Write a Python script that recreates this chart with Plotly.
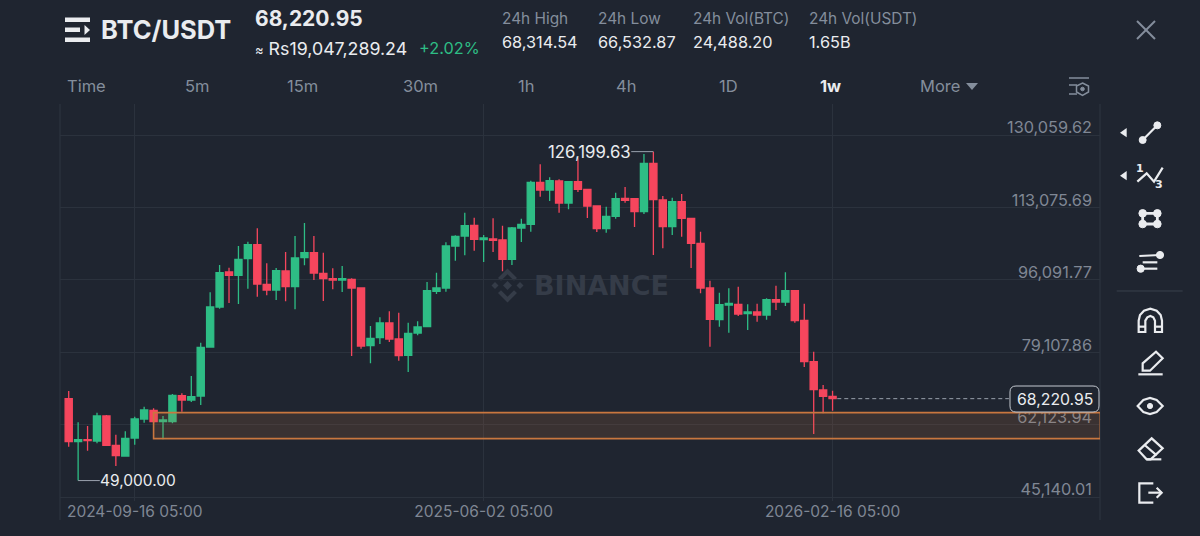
import pandas as pd
import plotly.graph_objects as go

# ---------- data ----------
first_week = "2024-07-29 05:00"
opens = [68225,58133,58602,58289,64157,57272,54769,58993,63453,65487,62827,62827,68929,67912,68850,80350,89738,97952,97170,101081,
         104367,95058,93728,98187,94510,101316,102489,97639,96387,96074,96231,94198,80664,82542,85984,82229,78396,83637,85123,93416,
         94198,104055,106402,108905,105541,105698,105463,100926,108279,109140,118997,117198,119310,114147,119153,117354,113443,108123,111017,115242,
         115164,112113,123456,114851,108592,114460,110548,104681,94198,86766,90208,90365,88174,88565,87861,91460,90912,93572,86609,76909,
         70259,68773]
highs = [70024,62670,61809,64939,64391,59776,60558,64000,66347,65955,64157,69320,69476,73544,81367,93180,99595,98969,104054,105071,
         108200,99986,98891,102646,106401,109452,106401,102489,98813,99360,96466,94354,85279,87314,88722,88409,86062,86375,95606,97797,
         104915,106558,111878,110705,106637,110548,108827,108514,110470,119388,123221,120170,119701,119300,124629,117432,113521,113286,116572,117902,
         115242,125646,126199.63,115789,115398,116259,110704,107419,95919,93103,94120,94511,90365,90521,91773,94745,97875,93650,90521,79256,
         71433,70103]
lows = [56959,49000,56021,57742,57200,52422,54613,57429,62592,62592,58681,62436,65174,67442,66738,80194,89347,90677,90442,94041,
        92163,92476,91381,91068,89190,99517,96074,91146,93884,93258,78238,79960,76518,81055,81525,77144,74484,83089,85045,92790,
        93337,100613,101865,102960,100300,102647,98109,99596,104994,107419,115633,114616,111878,112660,116728,110626,107341,107184,110470,114225,
        108514,111565,101943,103507,106637,106245,98892,92946,80429,85123,83715,87626,84341,86297,86766,89035,89973,86062,75657,59933,
        64783,65409]
closes = [58133,58602,58368,64157,57272,54847,58915,63453,65565,62827,63218,69007,67912,68694,80272,89738,97796,97170,100925,104367,
          95136,93728,98265,94510,101238,102489,97717,96387,96074,96387,94197,80586,82385,85984,82229,78317,83559,85045,93572,94198,
          104055,106324,108827,105620,105932,105385,100926,108279,109140,118997,117198,119388,114147,119153,117354,113443,108123,111017,115164,114772,
          112113,123456,114929,108592,114460,110548,104681,94198,86844,90286,90599,88096,88565,87861,91460,90912,93572,86531,76909,70338,
          68773,68220.95]

y_tick_values = [130059.62, 113075.69, 96091.77, 79107.86, 62123.94, 45140.01]
y_tick_labels = ["130,059.62", "113,075.69", "96,091.77", "79,107.86", "62,123.94", "45,140.01"]
x_tick_labels = ["2024-09-16 05:00", "2025-06-02 05:00", "2026-02-16 05:00"]
zone_bottom, zone_top = 58850, 64940
period_tabs = ["Time", "5m", "15m", "30m", "1h", "4h", "1D", "1w", "More"]
stats = [("24h High", "68,314.54"), ("24h Low", "66,532.87"), ("24h Vol(BTC)", "24,488.20"), ("24h Vol(USDT)", "1.65B")]

# ---------- style ----------
BG, GRID, FRAME = "#1f2530", "#2b323d", "#2f3641"
UP, DOWN = "#2ebd85", "#f6465d"
WHITE, MUTED, TICK = "#eaecef", "#848e9c", "#7f8794"
ORANGE = "#c9773f"
FONT = "Inter, 'Open Sans', sans-serif"
PLOT_L, PLOT_R, PLOT_T, PLOT_B = 60, 1100, 104, 501

dates = pd.date_range(first_week, periods=len(opens), freq="7D")
week = pd.Timedelta(days=7)


def X(x):
    return (x - PLOT_L) / (PLOT_R - PLOT_L)


def Y(y):
    return (PLOT_B - y) / (PLOT_B - PLOT_T)


def path(points, close=False):
    s = "M" + " L".join(f"{X(a):.5f},{Y(b):.5f}" for a, b in points)
    return s + (" Z" if close else "")


fig = go.Figure(go.Candlestick(
    x=dates, open=opens, high=highs, low=lows, close=closes,
    increasing=dict(line=dict(color=UP, width=1.3), fillcolor=UP),
    decreasing=dict(line=dict(color=DOWN, width=1.3), fillcolor=DOWN),
    whiskerwidth=0, hoverinfo="skip", showlegend=False,
))

shapes, annotations = [], []


def pshape(points, close=False, fill=None, color=WHITE, width=2.2, layer="above"):
    shapes.append(dict(type="path", xref="paper", yref="paper", path=path(points, close), layer=layer,
                       fillcolor=fill if fill else "rgba(0,0,0,0)",
                       line=dict(color=color, width=width)))


def circle(cx, cy, r, fill=WHITE, color=WHITE, width=1):
    shapes.append(dict(type="circle", xref="paper", yref="paper", x0=X(cx - r), x1=X(cx + r),
                       y0=Y(cy + r), y1=Y(cy - r), fillcolor=fill, line=dict(color=color, width=width)))


def text(t, x, y, size, color=WHITE, anchor="left", bold=False, family=FONT):
    annotations.append(dict(text=f"<b>{t}</b>" if bold else t, xref="paper", yref="paper",
                            x=X(x - 2 if anchor == "left" else x), y=Y(y),
                            xanchor=anchor, yanchor="middle", showarrow=False,
                            font=dict(family=family, size=size, color=color)))


# frame lines of the chart pane
for fx in (PLOT_L, PLOT_R):
    pshape([(fx, PLOT_T), (fx, 520)], color=FRAME, width=1, layer="below")

# price zone
shapes.append(dict(type="rect", xref="x", yref="y", x0=dates[9], x1=dates[0] + 109.4 * week,
                   y0=zone_bottom, y1=zone_top, fillcolor="rgba(201,119,63,0.16)",
                   line=dict(color=ORANGE, width=1.6)))

# last-price dashed line
shapes.append(dict(type="line", xref="x", yref="y", x0=dates[-1] + 0.5 * week, x1=dates[-1] + 18.7 * week,
                   y0=closes[-1], y1=closes[-1], line=dict(color="#9aa2ad", width=1, dash="4px,3px")))

# high and low callouts
top_i = highs.index(max(highs))
low_i = lows.index(min(lows))
shapes.append(dict(type="line", xref="x", yref="y", x0=dates[top_i] - 2.35 * week, x1=dates[top_i],
                   y0=highs[top_i], y1=highs[top_i], line=dict(color="#9aa2ad", width=1)))
shapes.append(dict(type="line", xref="x", yref="y", x0=dates[low_i], x1=dates[low_i] + 2.3 * week,
                   y0=lows[low_i], y1=lows[low_i], line=dict(color="#9aa2ad", width=1)))
annotations.append(dict(text=f"{highs[top_i]:,.2f}", xref="x", yref="y", x=dates[top_i] - 2.35 * week, y=highs[top_i],
                        xanchor="right", yanchor="middle", showarrow=False, xshift=2,
                        font=dict(family=FONT, size=16.8, color=WHITE)))
annotations.append(dict(text=f"{lows[low_i]:,.2f}", xref="x", yref="y", x=dates[low_i] + 2.3 * week, y=lows[low_i],
                        xanchor="left", yanchor="middle", showarrow=False, xshift=-2,
                        font=dict(family=FONT, size=15.5, color=WHITE)))

# last-price tag with rounded corners
lx0, lx1, ly0, ly1, rad = 1010, 1099, 386, 412, 6
shapes.append(dict(type="path", xref="paper", yref="paper", fillcolor=BG,
                   line=dict(color="#c4c9d0", width=1),
                   path=(f"M{X(lx0+rad):.5f},{Y(ly0):.5f} L{X(lx1-rad):.5f},{Y(ly0):.5f} "
                         f"Q{X(lx1):.5f},{Y(ly0):.5f} {X(lx1):.5f},{Y(ly0+rad):.5f} "
                         f"L{X(lx1):.5f},{Y(ly1-rad):.5f} Q{X(lx1):.5f},{Y(ly1):.5f} {X(lx1-rad):.5f},{Y(ly1):.5f} "
                         f"L{X(lx0+rad):.5f},{Y(ly1):.5f} Q{X(lx0):.5f},{Y(ly1):.5f} {X(lx0):.5f},{Y(ly1-rad):.5f} "
                         f"L{X(lx0):.5f},{Y(ly0+rad):.5f} Q{X(lx0):.5f},{Y(ly0):.5f} {X(lx0+rad):.5f},{Y(ly0):.5f} Z")))
text(f"{closes[-1]:,.2f}", 1054.5, 399, 15.8, WHITE, "center")

# watermark
WM = "#353c48"
cx, cy = 507.5, 285.5
pshape([(cx, cy - 4.5), (cx + 4.5, cy), (cx, cy + 4.5), (cx - 4.5, cy)], True, WM, WM, 0, "below")
for dx in (-12.5, 12.5):
    pshape([(cx + dx, cy - 3.5), (cx + dx + 3.5, cy), (cx + dx, cy + 3.5), (cx + dx - 3.5, cy)], True, WM, WM, 0, "below")
for s in (-1, 1):
    pshape([(cx, cy + s * 17), (cx + 9.5, cy + s * 7.5), (cx + 6.5, cy + s * 4.8), (cx, cy + s * 11.2),
            (cx - 6.5, cy + s * 4.8), (cx - 9.5, cy + s * 7.5)], True, WM, WM, 0, "below")
text("BINANCE", 534, 285.5, 27, WM, "left", True, "'DejaVu Sans'")

# header
pshape([(65, 17.5), (90, 17.5), (90, 22), (65, 22)], True, WHITE, WHITE, 0)
pshape([(65, 27.5), (80, 27.5), (80, 32), (65, 32)], True, WHITE, WHITE, 0)
pshape([(65, 37.5), (90, 37.5), (90, 42), (65, 42)], True, WHITE, WHITE, 0)
pshape([(84.5, 25), (90, 30), (84.5, 35)], True, WHITE, WHITE, 0)
text("BTC/USDT", 101, 30, 25.5, WHITE, "left", True)
text("68,220.95", 255, 19, 21, WHITE, "left", True)
text("<span style='font-size:13px'>≈</span> Rs19,047,289.24", 255, 48, 17.8, WHITE)
text("+2.02%", 419, 48, 16.3, UP)
for (label, value), sx in zip(stats, (502, 598, 693, 809)):
    text(label, sx, 18, 15.4, MUTED)
    text(value, sx, 42, 16.3, WHITE)

# period tabs
for tab, tx in zip(period_tabs, (86, 197, 302, 420, 526, 626, 728, 830, 940)):
    text(tab, tx, 86, 16.5, WHITE if tab == "1w" else MUTED, "center", tab == "1w")
pshape([(966, 83), (978, 83), (972, 90)], True, MUTED, MUTED, 0)

# close button and settings icon
pshape([(1137, 21), (1155, 39)], color=MUTED, width=2)
pshape([(1155, 21), (1137, 39)], color=MUTED, width=2)
pshape([(1069, 78), (1089, 78)], color=MUTED, width=1.5)
pshape([(1069, 85), (1077, 85)], color=MUTED, width=1.5)
pshape([(1069, 94), (1077, 94)], color=MUTED, width=1.5)
pshape([(1082.5, 83), (1088.5, 86), (1088.5, 92), (1082.5, 95.5), (1076.5, 92), (1076.5, 86)], True, color=MUTED, width=1.5)
circle(1082.5, 89, 1.8, MUTED, MUTED)


# toolbar: all coordinates in px
def tb(a, b):
    return (1000 + a / 3, b / 3)


pshape([tb(380, 384), tb(380, 412), tb(360, 398)], True, WHITE, WHITE, 0)
pshape([tb(428, 420), tb(472, 376)])
circle(*tb(428, 420), 3.5)
circle(*tb(472, 376), 3.5)

pshape([tb(380, 513), tb(380, 541), tb(360, 527)], True, WHITE, WHITE, 0)
pshape([tb(412, 545), tb(440, 520), tb(462, 545), tb(488, 503)])
annotations.append(dict(text="<b>1</b>", xref="paper", yref="paper", x=X(1000 + 421 / 3), y=Y(505 / 3), showarrow=False,
                        xanchor="center", yanchor="middle", font=dict(family="'DejaVu Sans'", size=11, color=WHITE)))
annotations.append(dict(text="<b>3</b>", xref="paper", yref="paper", x=X(1000 + 476 / 3), y=Y(552 / 3), showarrow=False,
                        xanchor="center", yanchor="middle", font=dict(family="'DejaVu Sans'", size=11, color=WHITE)))

pshape([tb(428, 640), tb(472, 640), tb(472, 672), tb(428, 672)], True, width=2.8)
for a, b in ((428, 640), (472, 640), (428, 672), (472, 672)):
    circle(*tb(a, b), 3.8)

pshape([tb(418, 768), tb(480, 765)])
pshape([tb(428, 787), tb(472, 787)])
pshape([tb(422, 806), tb(472, 806)])
circle(*tb(480, 765), 3.6)
circle(*tb(422, 806), 3.6)

pshape([tb(350, 873), tb(548, 873)], color="#3a414c", width=1)

pshape([tb(416, 996), tb(416, 962), tb(420, 945), tb(432, 932), tb(451, 926), tb(470, 932), tb(482, 945), tb(486, 962), tb(486, 996),
        tb(465, 996), tb(465, 962), tb(460, 952), tb(451, 948), tb(442, 952), tb(436, 962), tb(436, 996)], True)
pshape([tb(416, 980), tb(436, 980)])
pshape([tb(465, 980), tb(486, 980)])

pshape([tb(415, 1123), tb(488, 1123)])
pshape([tb(428, 1112), tb(428, 1090), tb(468, 1055), tb(488, 1075), tb(450, 1112)], True)

pshape([tb(413, 1218), tb(430, 1200), tb(450, 1194), tb(470, 1200), tb(488, 1218), tb(470, 1236), tb(450, 1242), tb(430, 1236)], True)
circle(*tb(450, 1218), 2.6)

pshape([tb(416, 1352), tb(455, 1315), tb(488, 1345), tb(452, 1378), tb(440, 1378)], True)
pshape([tb(440, 1378), tb(484, 1378)])
pshape([tb(434, 1335), tb(470, 1366)])

pshape([tb(460, 1450), tb(418, 1450), tb(418, 1508), tb(460, 1508)])
pshape([tb(445, 1478), tb(485, 1478)])
pshape([tb(470, 1463), tb(485, 1478), tb(470, 1493)])

x_tick_dates = [pd.Timestamp(t) for t in x_tick_labels]

fig.update_layout(
    width=1200, height=536, margin=dict(l=PLOT_L, r=1200 - PLOT_R, t=PLOT_T, b=536 - PLOT_B),
    paper_bgcolor=BG, plot_bgcolor=BG, boxgap=0.24, boxgroupgap=0, showlegend=False,
    font=dict(family=FONT), shapes=shapes, annotations=annotations,
    xaxis=dict(type="date", range=[dates[0] - 0.923 * week, dates[0] + 109.36 * week],
               tickvals=x_tick_dates, ticktext=x_tick_labels, tickangle=0, ticklabelstandoff=-1,
               tickfont=dict(family=FONT, size=15.5, color=TICK), ticks="", showline=False,
               showgrid=True, gridcolor=GRID, gridwidth=1, zeroline=False,
               rangeslider=dict(visible=False), fixedrange=True),
    yaxis=dict(side="right", range=[44205, 137381], tickvals=y_tick_values, ticktext=y_tick_labels,
               ticklabelposition="inside top", ticklabelstandoff=5, ticklabelshift=4,
               tickfont=dict(family=FONT, size=16.3, color=TICK), ticks="", showline=False,
               showgrid=True, gridcolor=GRID, gridwidth=1, zeroline=False, fixedrange=True),
)

fig.write_html("out.html", config=dict(displayModeBar=False),
               post_script="document.body.style.margin='0';document.body.style.overflow='hidden';document.body.style.background='#1f2530';")
